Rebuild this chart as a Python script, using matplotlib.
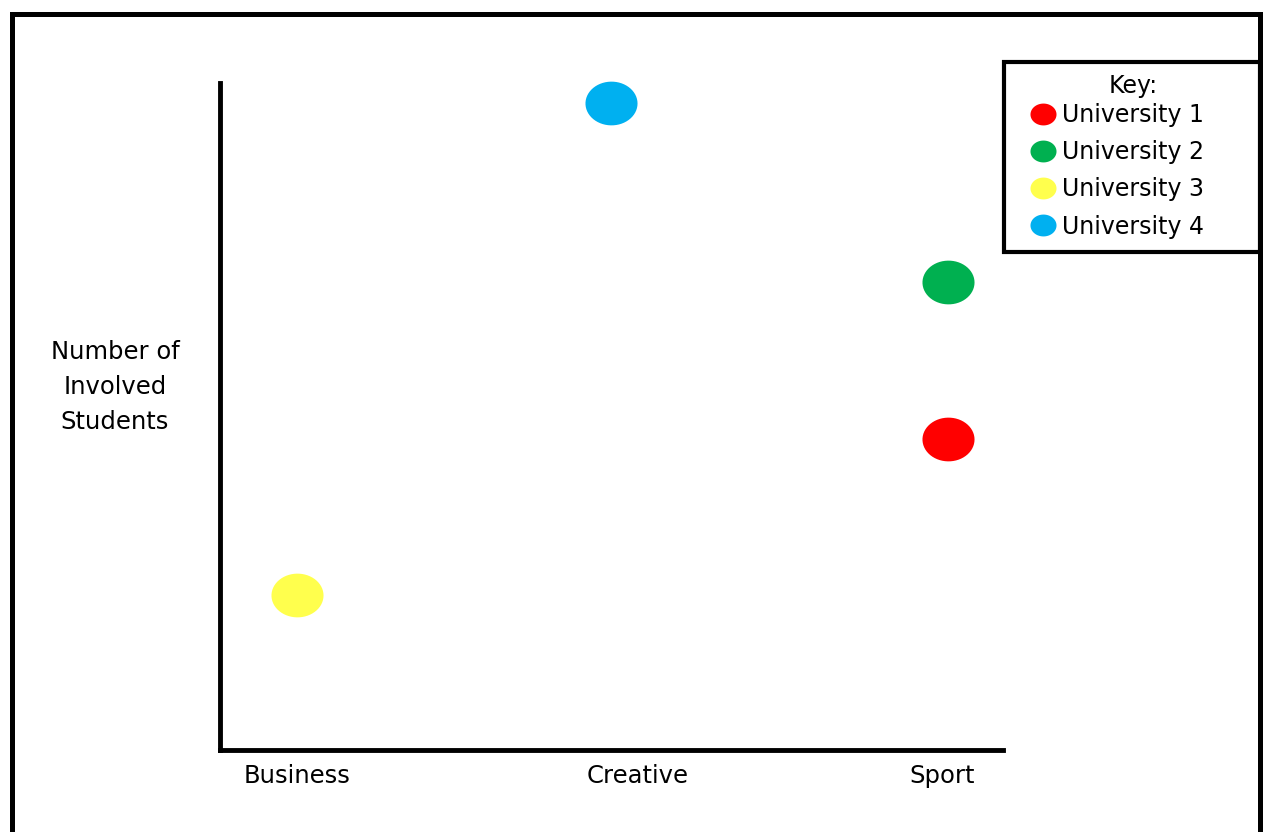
import matplotlib
matplotlib.use("Agg")
import matplotlib.pyplot as plt
from matplotlib.path import Path
from matplotlib.patches import Rectangle
import numpy as np

# data (y in arbitrary units, axis has no ticks)
categories = ["Business", "Creative", "Sport"]
universities = ["University 1", "University 2", "University 3", "University 4"]
uni_x = [2.01, 2.01, 0.0, 0.97]      # category index of each point
uni_y = [46.6, 70.2, 23.2, 97.0]
colors = ["#FF0000", "#00B050", "#FFFF4D", "#00B0F0"]

plt.rcParams["font.family"] = ["DejaVu Sans"]

# slightly squashed circle, like the hand drawn dots
t = np.linspace(0, 2 * np.pi, 60)
ellipse = Path(np.column_stack([np.cos(t), 0.84 * np.sin(t)]), closed=True)

W, H = 1264, 832
fig = plt.figure(figsize=(W / 100, H / 100), dpi=100)
ax = fig.add_axes([220 / W, 82 / H, 783 / W, 667 / H])

handles = []
for name, x, y, c in zip(universities, uni_x, uni_y, colors):
    h, = ax.plot([x], [y], linestyle="none", marker=ellipse, markersize=37.5,
                 markerfacecolor=c, markeredgecolor="none", label=name,
                 clip_on=False)
    handles.append(h)

ax.set_xlim(-0.238, 2.179)
ax.set_ylim(0, 100)
ax.set_xticks([0, 1.05, 1.99])
ax.set_xticklabels(categories, fontsize=17.5)
ax.set_yticks([])
ax.tick_params(axis="x", length=0, pad=10)
for s in ["top", "right"]:
    ax.spines[s].set_visible(False)
for s in ["left", "bottom"]:
    ax.spines[s].set_linewidth(3.5)
    ax.spines[s].set_capstyle("projecting")

fig.text(115 / W, 1 - 387 / H, "Number of\nInvolved\nStudents",
         ha="center", va="center", fontsize=17.5, linespacing=1.56)

# key box
fig.patches.append(Rectangle((1004 / W, 1 - 252 / H), 256 / W, 190 / H,
                             transform=fig.transFigure, fill=False,
                             edgecolor="black", linewidth=3, zorder=3))
fig.text(1133 / W, 1 - 86 / H, "Key:", ha="center", va="center", fontsize=17)
leg = fig.legend(handles=handles, loc="upper left",
                 bbox_to_anchor=(1035 / W, 1 - 103 / H), fontsize=17,
                 markerscale=0.5, handlelength=0.7, handletextpad=0.45,
                 labelspacing=0.56, borderpad=0, borderaxespad=0,
                 frameon=False)

# outer frame round the whole picture (bottom edge runs off the image)
fig.patches.append(Rectangle((12 / W, -0.1), 1248 / W, 1.1 - 14 / H,
                             transform=fig.transFigure, fill=False,
                             edgecolor="black", linewidth=3.6, zorder=0))

fig.savefig("out.png", dpi=100)
